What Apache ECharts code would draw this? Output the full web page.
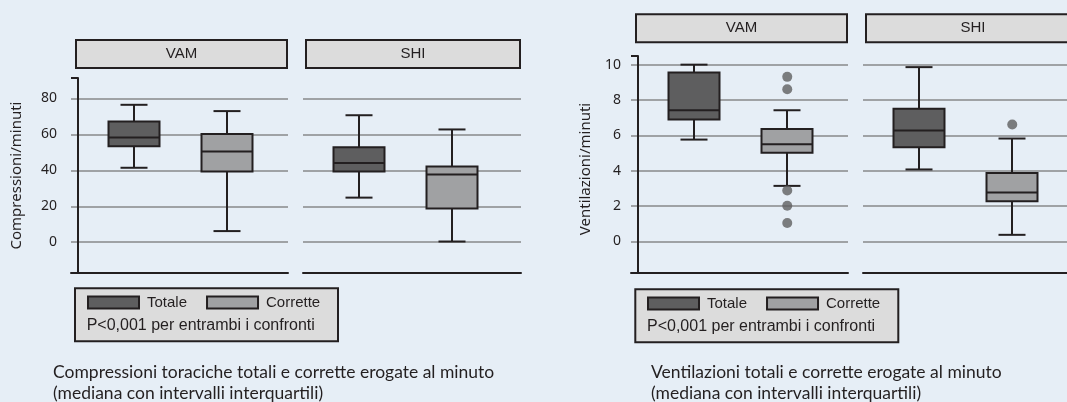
<!DOCTYPE html>
<html><head><meta charset="utf-8">
<script src="https://cdn.jsdelivr.net/npm/echarts@6/dist/echarts.min.js"></script>
<style>html,body{margin:0;padding:0;background:#e6eef6}#c{width:1067px;height:402px}</style>
</head><body><div id="c"></div><script>
// ---------- data ----------
const groups = ['Totale', 'Corrette'];
const panels = ['VAM', 'SHI'];
const compTicks = [0, 20, 40, 60, 80];
const ventTicks = [0, 2, 4, 6, 8, 10];
// [whisker low, Q1, median, Q3, whisker high]
const compVamTotale   = [41.4, 53.4, 58.2, 67.1, 76.4];
const compVamCorrette = [6.2, 39.3, 50.5, 60.2, 72.9];
const compShiTotale   = [24.8, 39.3, 44.1, 52.8, 70.6];
const compShiCorrette = [0.4, 18.7, 37.6, 42.1, 62.7];
const ventVamTotale   = [5.76, 6.9, 7.42, 9.56, 10.0];
const ventVamCorrette = [3.14, 5.02, 5.5, 6.36, 7.42];
const ventVamCorretteOutliers = [9.31, 8.61, 2.88, 2.02, 1.04];
const ventShiTotale   = [4.07, 5.32, 6.27, 7.5, 9.86];
const ventShiCorrette = [0.37, 2.27, 2.77, 3.87, 5.82];
const ventShiCorretteOutliers = [6.61];
const legendNote = 'P<0,001 per entrambi i confronti';
const compCaption = ['Compressioni toraciche totali e corrette erogate al minuto', '(mediana con intervalli interquartili)'];
const ventCaption = ['Ventilazioni totali e corrette erogate al minuto', '(mediana con intervalli interquartili)'];

// ---------- styles ----------
const INK = '#231f20', GRIDC = '#9fa2a5', BG = '#e6eef6', STRIP = '#dcdcdc';
const FILL = { Totale: '#5e5e5f', Corrette: '#a0a1a3' };
const BOXW = 51, CAPW = 27;

const grid = [], xAxis = [], yAxis = [], series = [], graphic = [];

function renderBox(params, api) {
  const x = api.value(0);
  const lo = api.coord([x, api.value(1)]);
  const q1 = api.coord([x, api.value(2)]);
  const md = api.coord([x, api.value(3)]);
  const q3 = api.coord([x, api.value(4)]);
  const hi = api.coord([x, api.value(5)]);
  const cx = Math.round(lo[0]);
  const ls = { stroke: INK, lineWidth: 2 };
  return { type: 'group', children: [
    { type: 'line', shape: { x1: cx, y1: hi[1], x2: cx, y2: q3[1] }, style: ls },
    { type: 'line', shape: { x1: cx, y1: q1[1], x2: cx, y2: lo[1] }, style: ls },
    { type: 'line', shape: { x1: cx - CAPW / 2, y1: hi[1], x2: cx + CAPW / 2, y2: hi[1] }, style: ls },
    { type: 'line', shape: { x1: cx - CAPW / 2, y1: lo[1], x2: cx + CAPW / 2, y2: lo[1] }, style: ls },
    { type: 'rect', shape: { x: cx - BOXW / 2, y: q3[1], width: BOXW, height: q1[1] - q3[1] },
      style: { fill: api.visual('color'), stroke: INK, lineWidth: 2 } },
    { type: 'line', shape: { x1: cx - BOXW / 2, y1: md[1], x2: cx + BOXW / 2, y2: md[1] }, style: ls }
  ]};
}

function addPanel(cfg) {
  const h = cfg.bottom - cfg.top;
  // frame grid: grid lines, axis line, bottom line
  const gf = grid.length;
  grid.push({ left: cfg.frameLeft, top: cfg.top, width: cfg.frameWidth, height: h });
  xAxis.push({ gridIndex: gf, type: 'value', position: 'bottom', min: 0, max: 1,
    axisLine: { show: true, onZero: false, lineStyle: { color: INK, width: 2 } },
    axisTick: { show: false }, axisLabel: { show: false }, splitLine: { show: false } });
  yAxis.push({ gridIndex: gf, type: 'value', position: 'left', min: cfg.min, max: cfg.max,
    offset: cfg.showAxis ? -7 : 0,
    axisLine: { show: cfg.showAxis, onZero: false, lineStyle: { color: INK, width: 2 } },
    axisTick: { show: false, customValues: cfg.ticks },
    axisLabel: { show: cfg.showAxis, customValues: cfg.ticks, margin: cfg.labelMargin,
      color: INK, fontFamily: 'Noto Sans', fontSize: 14 },
    splitLine: { show: true, lineStyle: { color: GRIDC, width: 2 } },
    name: cfg.showAxis ? cfg.axisName : '', nameLocation: 'middle', nameRotate: 90, nameGap: cfg.nameGap,
    nameTextStyle: { color: INK, fontFamily: 'Noto Sans', fontSize: 15, padding: cfg.namePad || 0 } });
  if (cfg.showAxis) {
    yAxis.push({ gridIndex: gf, type: 'value', position: 'left', min: cfg.min, max: cfg.max, offset: -7,
      axisLine: { show: false }, axisLabel: { show: false }, splitLine: { show: false },
      axisTick: { show: true, customValues: [cfg.max], length: 7, lineStyle: { color: INK, width: 2 } } });
  }
  // data grid
  const gd = grid.length;
  grid.push({ left: cfg.dataLeft, top: cfg.top, width: 187, height: h });
  const xi = xAxis.length, yi = yAxis.length;
  xAxis.push({ gridIndex: gd, type: 'category', data: groups, show: false });
  yAxis.push({ gridIndex: gd, type: 'value', min: cfg.min, max: cfg.max, show: false });
  groups.forEach((g, i) => {
    series.push({ type: 'custom', name: g, xAxisIndex: xi, yAxisIndex: yi, renderItem: renderBox,
      itemStyle: { color: FILL[g], borderColor: INK, borderWidth: 2 },
      encode: { x: 0, y: [1, 2, 3, 4, 5] }, z: 3,
      data: [[i].concat(cfg.boxes[g])] });
  });
  if (cfg.outliers) {
    series.push({ type: 'scatter', name: 'Outlier', xAxisIndex: xi, yAxisIndex: yi, symbolSize: 10,
      itemStyle: { color: '#5f5f60' }, z: 4,
      data: cfg.outliers.map(v => [1, v]) });
  }
  // strip header
  graphic.push({ type: 'group', children: [
    { type: 'rect', shape: { x: cfg.stripLeft, y: cfg.stripTop, width: cfg.stripWidth, height: 28 },
      style: { fill: STRIP, stroke: INK, lineWidth: 2 } },
    { type: 'text', x: cfg.stripLeft + cfg.stripWidth / 2, y: cfg.stripTop + 14,
      style: { text: cfg.panel, fill: INK, font: '15px "Liberation Sans"', align: 'center', verticalAlign: 'middle' } }
  ]});
}

// Compressioni chart
addPanel({ panel: panels[0], frameLeft: 71, frameWidth: 217, dataLeft: 87, top: 78, bottom: 273,
  min: -17.1, max: 91.3, ticks: compTicks, showAxis: true, axisName: 'Compressioni/minuti',
  nameGap: 54, labelMargin: 21, stripLeft: 76, stripTop: 40, stripWidth: 211,
  boxes: { Totale: compVamTotale, Corrette: compVamCorrette } });
addPanel({ panel: panels[1], frameLeft: 303, frameWidth: 218, dataLeft: 312, top: 78, bottom: 273,
  min: -17.1, max: 91.3, ticks: compTicks, showAxis: false, stripLeft: 306, stripTop: 40, stripWidth: 214,
  boxes: { Totale: compShiTotale, Corrette: compShiCorrette } });
// Ventilazioni chart
addPanel({ panel: panels[0], frameLeft: 631, frameWidth: 217, dataLeft: 647, top: 56, bottom: 273,
  min: -1.79, max: 10.49, ticks: ventTicks, showAxis: true, axisName: 'Ventilazioni/minuti',
  nameGap: 45, labelMargin: 17, namePad: [0, 9, 0, 0], stripLeft: 636, stripTop: 14.3, stripWidth: 211,
  boxes: { Totale: ventVamTotale, Corrette: ventVamCorrette }, outliers: ventVamCorretteOutliers });
addPanel({ panel: panels[1], frameLeft: 863, frameWidth: 220, dataLeft: 872, top: 56, bottom: 273,
  min: -1.79, max: 10.49, ticks: ventTicks, showAxis: false, stripLeft: 866, stripTop: 14.3, stripWidth: 214,
  boxes: { Totale: ventShiTotale, Corrette: ventShiCorrette }, outliers: ventShiCorretteOutliers });

// legend boxes, notes and captions
function addLegendBlock(x, y, capX, caption) {
  graphic.push({ type: 'rect', z: -1, shape: { x: x, y: y, width: 263, height: 53 },
    style: { fill: STRIP, stroke: INK, lineWidth: 2 } });
  graphic.push({ type: 'text', x: x + 11.7, y: y + 37,
    style: { text: legendNote, fill: INK, font: '16px "Liberation Sans"', verticalAlign: 'middle' } });
  graphic.push({ type: 'text', x: capX, y: 372.5,
    style: { text: caption[0], fill: INK, font: '17.5px Lato', verticalAlign: 'middle' } });
  graphic.push({ type: 'text', x: capX, y: 393.5,
    style: { text: caption[1], fill: INK, font: '17.5px Lato', verticalAlign: 'middle' } });
}
addLegendBlock(75, 288.3, 53, compCaption);
addLegendBlock(635.3, 289.3, 651, ventCaption);

const legendItems = groups.map(g => ({ name: g, icon: 'rect',
  itemStyle: { color: FILL[g], borderColor: INK, borderWidth: 2 } }));
function legendAt(left, top) {
  return { left: left, top: top, padding: 0, itemGap: 19, itemWidth: 51, itemHeight: 12,
    selectedMode: false, data: legendItems,
    textStyle: { fontFamily: 'Liberation Sans', fontSize: 15, color: INK, padding: [0, 0, 0, 3] } };
}

const chart = echarts.init(document.getElementById('c'), null, { renderer: 'canvas' });
chart.setOption({
  backgroundColor: BG,
  animation: false,
  grid: grid, xAxis: xAxis, yAxis: yAxis, series: series,
  legend: [legendAt(87, 295), legendAt(647, 296)],
  graphic: graphic
});
</script></body></html>
